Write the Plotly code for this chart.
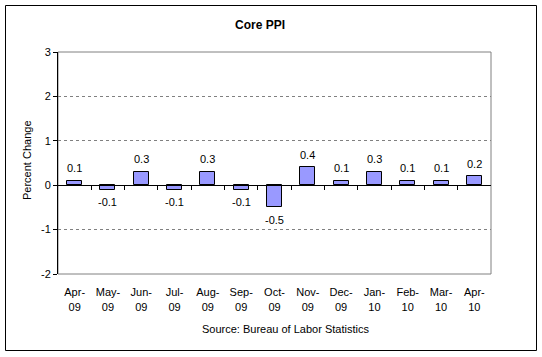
import plotly.graph_objects as go

months = ["Apr-<br>09", "May-<br>09", "Jun-<br>09", "Jul-<br>09", "Aug-<br>09", "Sep-<br>09",
          "Oct-<br>09", "Nov-<br>09", "Dec-<br>09", "Jan-<br>10", "Feb-<br>10", "Mar-<br>10", "Apr-<br>10"]
values = [0.1, -0.1, 0.3, -0.1, 0.3, -0.1, -0.5, 0.4, 0.1, 0.3, 0.1, 0.1, 0.2]
y_ticks = [-2, -1, 0, 1, 2, 3]

W, H = 542, 357
L, R, T, B = 58, 491, 52, 274
pw, ph = R - L, B - T

def px_x(p):
    return (p - L) / pw

def px_y(p):
    return (B - p) / ph

x_idx = list(range(len(months)))

font = dict(family="Arial", size=11, color="black")

fig = go.Figure()
fig.add_trace(go.Bar(
    x=x_idx, y=values, width=0.45,
    marker=dict(color="#9999FF", line=dict(color="black", width=1)),
    cliponaxis=False, showlegend=False, hoverinfo="skip",
))

# data labels
for xi, v in zip(x_idx, values):
    fig.add_annotation(x=xi, y=v, text=f"{v:.1f}", showarrow=False,
                       xanchor="center", yanchor="middle",
                       yshift=12.5 if v >= 0 else -12.5, font=font)

fig.update_layout(
    width=W, height=H, autosize=False,
    margin=dict(l=L, r=W - R, t=T, b=H - B, autoexpand=False),
    paper_bgcolor="white", plot_bgcolor="white",
    font=font,
    bargap=0,
    xaxis=dict(
        range=[-0.5, len(months) - 0.5], automargin=False,
        tickmode="array", tickvals=x_idx, ticktext=months,
        showgrid=False, zeroline=False, showline=False, ticks="outside",
        ticklen=8, tickcolor="rgba(0,0,0,0)",
        tickfont=font, tickangle=0,
    ),
    xaxis2=dict(
        overlaying="x", anchor="free", position=2 / 5, automargin=False,
        range=[-0.5, len(months) - 0.5],
        tickmode="array", tickvals=[i + 0.5 for i in x_idx[:-1]],
        showticklabels=False, ticks="outside", ticklen=4, tickcolor="black",
        showline=True, linecolor="black", linewidth=1, showgrid=False, zeroline=False,
    ),
    yaxis=dict(
        range=[-2, 3], tickmode="array", tickvals=y_ticks,
        ticktext=[str(t) for t in y_ticks], automargin=False,
        showgrid=True, gridcolor="#808080", griddash="3px,3px", gridwidth=1,
        zeroline=False, showline=True, linecolor="black", linewidth=1,
        ticks="outside", ticklen=4, tickcolor="black", tickfont=font,
    ),
)
# dummy trace for xaxis2
fig.add_trace(go.Scatter(x=[0], y=[0], xaxis="x2", mode="markers",
                         marker=dict(opacity=0), showlegend=False, hoverinfo="skip"))

# plot area border (gray)
fig.add_shape(type="rect", xref="paper", yref="paper", x0=0, x1=1, y0=0, y1=1,
              line=dict(color="#808080", width=1), layer="below")
# outer chart border
fig.add_shape(type="rect", xref="paper", yref="paper",
              x0=px_x(5.5), x1=px_x(536.5), y0=px_y(350.5), y1=px_y(5.5),
              line=dict(color="black", width=1))

fig.add_annotation(text="<b>Core PPI</b>", xref="paper", yref="paper",
                   x=px_x(260), y=px_y(25), showarrow=False,
                   xanchor="center", yanchor="middle",
                   font=dict(family="Arial", size=12, color="black"))
fig.add_annotation(text="Percent Change", xref="paper", yref="paper",
                   x=px_x(27), y=px_y(160), showarrow=False, textangle=-90,
                   xanchor="center", yanchor="middle", font=font)
fig.add_annotation(text="Source: Bureau of Labor Statistics", xref="paper", yref="paper",
                   x=px_x(285), y=px_y(329), showarrow=False,
                   xanchor="center", yanchor="middle", font=font)

fig.write_html("out.html", config={"displayModeBar": False},
               post_script="document.body.style.margin='0';document.body.style.overflow='hidden';")
